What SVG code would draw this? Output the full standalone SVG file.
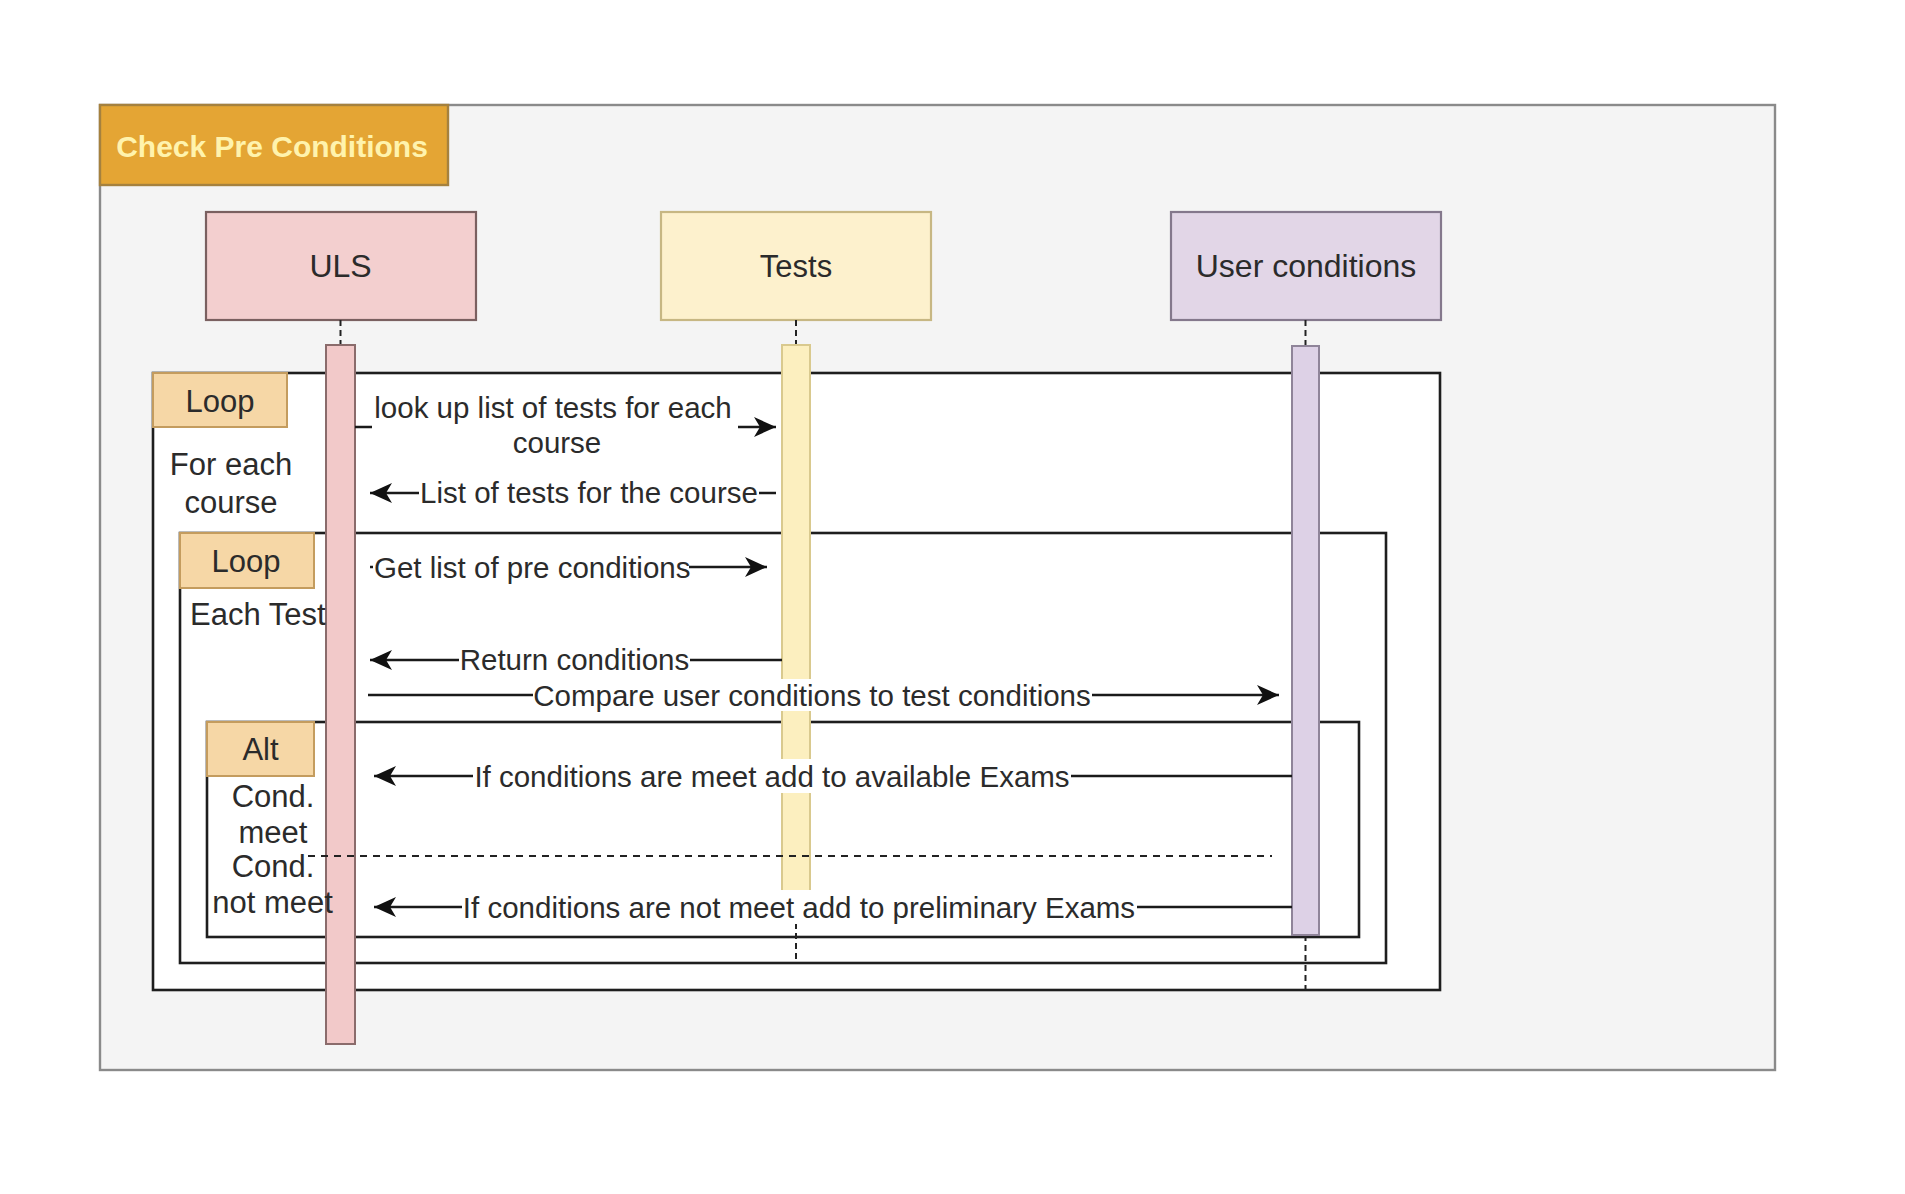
<svg xmlns="http://www.w3.org/2000/svg" width="1905" height="1194" viewBox="0 0 1905 1194">
<defs>
<style>
text{font-family:"Liberation Sans",Arial,sans-serif;fill:#2b2b2b}
.lbl{font-size:31px}
.msg{font-size:29.5px}
.frame{fill:#ffffff;stroke:#1e1e1e;stroke-width:2.6}
.tag{fill:#f6d7a6;stroke:#c49c5e;stroke-width:2}
.life{stroke:#222;stroke-width:2;stroke-dasharray:6 4;fill:none}
.arr{stroke:#1a1a1a;stroke-width:2.4;fill:none;marker-end:url(#ah)}
.bg{fill:#ffffff}
</style>
<marker id="ah" markerUnits="userSpaceOnUse" markerWidth="24" markerHeight="22" refX="22" refY="11" orient="auto" viewBox="0 0 24 22">
<path d="M0,1 L22,11 L0,21 L6,11 z" fill="#111"/>
</marker>
</defs>
<rect width="1905" height="1194" fill="#ffffff"/>
<g id="container">
<rect x="100" y="105" width="1675" height="965" fill="#f4f4f4" stroke="#8a8a8a" stroke-width="2.4"/>
</g>
<g id="title">
<rect x="100" y="105" width="348" height="80" fill="#e4a534" stroke="#a5813e" stroke-width="2.4"/>
<text x="272" y="157" text-anchor="middle" style="font-size:30px;font-weight:bold;fill:#fff3ad">Check Pre Conditions</text>
</g>
<g id="uls">
<rect x="206" y="212" width="270" height="108" fill="#f3cfcf" stroke="#7a6060" stroke-width="2.2"/>
<text x="340.5" y="277" text-anchor="middle" style="font-size:32px">ULS</text>
</g>
<g id="tests">
<rect x="661" y="212" width="270" height="108" fill="#fdf1cd" stroke="#c7b783" stroke-width="2.2"/>
<text x="796" y="277" text-anchor="middle" style="font-size:31px">Tests</text>
</g>
<g id="user-conditions">
<rect x="1171" y="212" width="270" height="108" fill="#e2d6e7" stroke="#84788c" stroke-width="2.2"/>
<text x="1306" y="277" text-anchor="middle" style="font-size:32px">User conditions</text>
</g>
<g id="loop-course">
<rect class="frame" x="153" y="373" width="1287" height="617"/>
</g>
<g id="loop-test">
<rect class="frame" x="180" y="533" width="1206" height="430"/>
</g>
<g id="alt">
<rect class="frame" x="207" y="722" width="1152" height="215"/>
</g>
<g id="lifelines">
<line class="life" x1="340.5" y1="320" x2="340.5" y2="345"/>
<line class="life" x1="796" y1="320" x2="796" y2="345"/>
<line class="life" x1="796" y1="893" x2="796" y2="963"/>
<line class="life" x1="1305.5" y1="320" x2="1305.5" y2="346"/>
<line class="life" x1="1305.5" y1="935" x2="1305.5" y2="990"/>
</g>
<g id="tags">
<rect class="tag" x="153" y="373" width="134" height="54"/>
<rect class="tag" x="180" y="533" width="134" height="55"/>
<rect class="tag" x="207" y="722" width="107" height="54"/>
</g>
<g id="bars">
<rect id="uls-bar" x="326" y="345" width="29" height="699" fill="#f2c9c9" stroke="#8a6b6b" stroke-width="2"/>
<rect id="tests-bar" x="782" y="345" width="28" height="548" fill="#fcefbf" stroke="#d9c98e" stroke-width="2"/>
<rect id="uc-bar" x="1292" y="346" width="27" height="589" fill="#ddd1e6" stroke="#8f8499" stroke-width="2"/>
</g>
<g id="alt-separator">
<line x1="308" y1="856" x2="1272" y2="856" stroke="#222" stroke-width="2" stroke-dasharray="7 6"/>
</g>
<g id="connectors">
<line class="arr" x1="355" y1="427" x2="776" y2="427"/>
<rect class="bg" x="372" y="394" width="366" height="66"/>
<text class="msg" x="553" y="418" text-anchor="middle">look up list of tests for each</text>
<text class="msg" x="557" y="453" text-anchor="middle">course</text>

<line class="arr" x1="776" y1="493" x2="370" y2="493"/>
<rect class="bg" x="419" y="476" width="340" height="34"/>
<text class="msg" x="589" y="503" text-anchor="middle">List of tests for the course</text>

<line class="arr" x1="370" y1="567" x2="767" y2="567"/>
<rect class="bg" x="373" y="550" width="316" height="34"/>
<text class="msg" x="374" y="578">Get list of pre conditions</text>

<line class="arr" x1="782" y1="660" x2="370" y2="660"/>
<rect class="bg" x="459" y="643" width="231" height="34"/>
<text class="msg" x="574.5" y="670" text-anchor="middle">Return conditions</text>

<line class="arr" x1="368" y1="695" x2="1279" y2="695"/>
<rect class="bg" x="533" y="679" width="559" height="32"/>
<text class="msg" x="812" y="706" text-anchor="middle">Compare user conditions to test conditions</text>

<line class="arr" x1="1292" y1="776" x2="374" y2="776"/>
<rect class="bg" x="473" y="759" width="598" height="34"/>
<text class="msg" x="772" y="787" text-anchor="middle">If conditions are meet add to available Exams</text>

<line class="arr" x1="1292" y1="907" x2="374" y2="907"/>
<rect class="bg" x="462" y="890" width="675" height="34"/>
<text class="msg" x="799" y="918" text-anchor="middle">If conditions are not meet add to preliminary Exams</text>
</g>
<g id="frame-labels">
<text class="lbl" x="220" y="412" text-anchor="middle">Loop</text>
<text class="lbl" x="231" y="475" text-anchor="middle">For each</text>
<text class="lbl" x="231" y="513" text-anchor="middle">course</text>
<text class="lbl" x="246" y="572" text-anchor="middle">Loop</text>
<text class="lbl" x="190" y="625">Each Test</text>
<text class="lbl" x="260.5" y="760" text-anchor="middle">Alt</text>
<text class="lbl" x="273" y="807" text-anchor="middle">Cond.</text>
<text class="lbl" x="273" y="843" text-anchor="middle">meet</text>
<text class="lbl" x="273" y="877" text-anchor="middle">Cond.</text>
<text class="lbl" x="272.5" y="913" text-anchor="middle">not meet</text>
</g>
</svg>
